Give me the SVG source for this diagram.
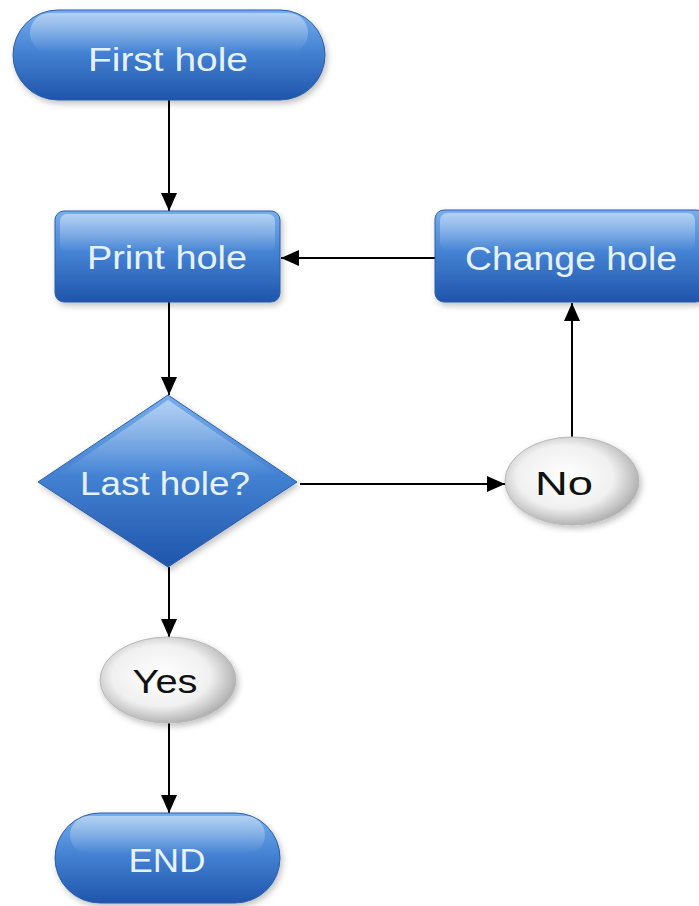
<svg xmlns="http://www.w3.org/2000/svg" width="699" height="906" viewBox="0 0 699 906">
<defs>
  <linearGradient id="blue" x1="0" y1="0" x2="0" y2="1">
    <stop offset="0" stop-color="#78aeea"/>
    <stop offset="0.45" stop-color="#4583d4"/>
    <stop offset="1" stop-color="#1f55ab"/>
  </linearGradient>
  <linearGradient id="gloss" x1="0" y1="0" x2="0" y2="1">
    <stop offset="0" stop-color="#ffffff" stop-opacity="0.45"/>
    <stop offset="1" stop-color="#ffffff" stop-opacity="0"/>
  </linearGradient>
  <radialGradient id="grey" cx="0.45" cy="0.45" r="0.6">
    <stop offset="0" stop-color="#ffffff"/>
    <stop offset="0.6" stop-color="#f0f0f0"/>
    <stop offset="1" stop-color="#a4a4a4"/>
  </radialGradient>
  <filter id="sh" x="-20%" y="-20%" width="140%" height="150%">
    <feDropShadow dx="2" dy="3" stdDeviation="3" flood-color="#000" flood-opacity="0.25"/>
  </filter>
  <marker id="arrow" viewBox="0 0 18 16" refX="18" refY="8" markerWidth="18" markerHeight="16" markerUnits="userSpaceOnUse" orient="auto">
    <path d="M0,0 L18,8 L0,16 Z" fill="#000"/>
  </marker>
</defs>
<style>
  .blue { fill: url(#blue); stroke: #2a5ea8; stroke-width: 1; filter: url(#sh); }
  .gloss { fill: url(#gloss); }
  .grey { fill: url(#grey); stroke: #b8b8b8; stroke-width: 1; filter: url(#sh); }
  .wt { font-family: "Liberation Sans", Arial, sans-serif; font-size: 34px; fill: #e6f2ff; text-anchor: middle; }
  .bt { font-family: "Liberation Sans", Arial, sans-serif; font-size: 34px; fill: #111; text-anchor: middle; }
  .edge { stroke: #000; stroke-width: 2; fill: none; marker-end: url(#arrow); }
</style>
<rect width="699" height="906" fill="#ffffff"/>
<g id="connectors">
  <line class="edge" x1="169" y1="100" x2="169" y2="211"/>
  <line class="edge" x1="436" y1="258" x2="281" y2="258"/>
  <line class="edge" x1="572" y1="437" x2="572" y2="303"/>
  <line class="edge" x1="300" y1="484" x2="505" y2="484"/>
  <line class="edge" x1="169" y1="302" x2="169" y2="395"/>
  <line class="edge" x1="169" y1="567" x2="169" y2="637"/>
  <line class="edge" x1="169" y1="723" x2="169" y2="813"/>
</g>
<g id="first-hole">
  <rect class="blue" x="13" y="10" width="312" height="90" rx="45" ry="45"/>
  <rect class="gloss" x="30" y="13" width="278" height="40" rx="20" ry="20"/>
  <text class="wt" x="168" y="71" textLength="160" lengthAdjust="spacingAndGlyphs">First hole</text>
</g>
<g id="print-hole">
  <rect class="blue" x="55" y="211" width="225" height="91" rx="9" ry="9"/>
  <rect class="gloss" x="60" y="214" width="215" height="38" rx="7" ry="7"/>
  <text class="wt" x="167" y="269" textLength="160" lengthAdjust="spacingAndGlyphs">Print hole</text>
</g>
<g id="change-hole">
  <rect class="blue" x="435" y="210" width="270" height="92" rx="9" ry="9"/>
  <rect class="gloss" x="440" y="213" width="255" height="38" rx="7" ry="7"/>
  <text class="wt" x="571" y="270" textLength="212" lengthAdjust="spacingAndGlyphs">Change hole</text>
</g>
<g id="last-hole">
  <path class="blue" d="M168,395 L297,482 L168,567 L38,482 Z"/>
  <path class="gloss" d="M168,400 L280,476 L56,476 Z"/>
  <text class="wt" x="165" y="495" textLength="170" lengthAdjust="spacingAndGlyphs">Last hole?</text>
</g>
<g id="no">
  <ellipse class="grey" cx="572" cy="481" rx="67" ry="44"/>
  <text class="bt" x="564" y="495" textLength="58" lengthAdjust="spacingAndGlyphs">No</text>
</g>
<g id="yes">
  <ellipse class="grey" cx="168" cy="680" rx="68" ry="43"/>
  <text class="bt" x="165" y="693" textLength="65" lengthAdjust="spacingAndGlyphs">Yes</text>
</g>
<g id="end">
  <rect class="blue" x="55" y="813" width="225" height="90" rx="45" ry="45"/>
  <rect class="gloss" x="70" y="816" width="195" height="38" rx="19" ry="19"/>
  <text class="wt" x="167" y="872" textLength="77" lengthAdjust="spacingAndGlyphs">END</text>
</g>
</svg>
